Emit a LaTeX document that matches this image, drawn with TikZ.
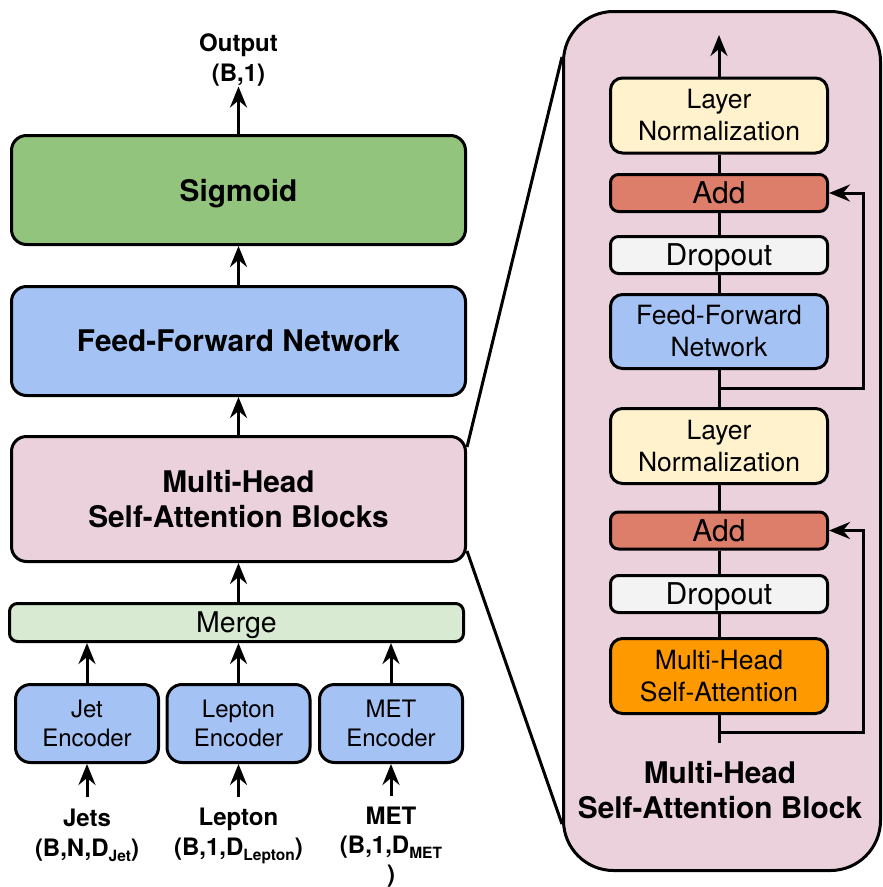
\documentclass[tikz,border=0pt]{standalone}
\usepackage{fontspec}
\setmainfont{TeX Gyre Heros}
\usetikzlibrary{arrows.meta,calc}
\definecolor{sigc}{HTML}{93C47D}
\definecolor{ffnc}{HTML}{A4C2F4}
\definecolor{mhsac}{HTML}{EAD1DC}
\definecolor{mergec}{HTML}{D9EAD3}
\definecolor{lnc}{HTML}{FFF2CC}
\definecolor{addc}{HTML}{DD7E6B}
\definecolor{dropc}{HTML}{F3F3F3}
\definecolor{mhac}{HTML}{FF9900}
\newcommand{\lowsub}[1]{\raisebox{-5pt}{\fontsize{15.5}{16}\selectfont #1}}
\begin{document}
\begin{tikzpicture}[x=1pt,y=-1pt,
  box/.style={draw=black,line width=3pt,rounded corners=15pt,inner sep=0pt,align=center,text=black},
  arr/.style={line width=3pt,-{Stealth[length=21pt,width=17pt,inset=7pt]}},
  plain/.style={line width=3pt},
  bigb/.style={font=\fontsize{29.8}{35}\selectfont\bfseries},
  lbl/.style={inner sep=0pt,align=center,font=\fontsize{24}{30}\selectfont\bfseries},
  wide/.style={minimum width=454pt},
  enc/.style={box,fill=ffnc,minimum width=143pt,minimum height=78pt,font=\fontsize{24}{28.8}\selectfont},
  inbox/.style={box,rounded corners=12pt,minimum width=217pt,minimum height=75pt,font=\fontsize{26.5}{32}\selectfont},
  thin/.style={box,rounded corners=8pt,minimum width=217pt,minimum height=37pt,font=\fontsize{30}{35}\selectfont,text depth=0pt}
]
\useasboundingbox (0,0) rectangle (883,887);

% right panel
\node[draw=black,line width=3pt,rounded corners=50pt,fill=mhsac,minimum width=317pt,minimum height=859pt,inner sep=0pt] (panel) at (722,441) {};

% left column
\node[box,wide,fill=sigc,minimum height=109pt,bigb,text depth=0pt] (sig) at (238.5,190) {Sigmoid};
\node[box,wide,fill=ffnc,minimum height=109pt,bigb] (ffn) at (238.5,341) {Feed-Forward Network};
\node[box,wide,fill=mhsac,minimum height=125pt,bigb] (mhsa) at (238.5,499) {Multi-Head\\Self-Attention Blocks};
\node[box,wide,fill=mergec,rounded corners=8pt,minimum height=38pt,font=\fontsize{28.5}{34}\selectfont,text depth=0pt] (merge) at (236.5,622.5) {Merge};
\node[enc] (jet) at (87,723.5) {Jet\\Encoder};
\node[enc] (lep) at (238.5,723.5) {Lepton\\Encoder};
\node[enc] (met) at (391,723.5) {MET\\Encoder};

\node[lbl] (out) at (238.5,60) {Output\\(B,1)};
\node[lbl] (jl) at (87,835) {Jets\\(B,N,D\lowsub{Jet})};
\node[lbl] (ll) at (238.5,836) {Lepton\\(B,1,D\lowsub{Lepton})};
\node[lbl,font=\fontsize{24}{29}\selectfont\bfseries] (ml) at (391,847) {MET\\(B,1,D\lowsub{MET}\\)};

% zoom lines
\draw[plain] ($(mhsa.north east)+(0,12)$) -- ($(panel.north west)+(0,47)$);
\draw[plain] ($(mhsa.south east)+(0,-12)$) -- ($(panel.south west)+(0,-48)$);

% left arrows
\draw[arr] (sig) -- (out);
\draw[arr] (ffn) -- (sig);
\draw[arr] (mhsa) -- (ffn);
\draw[arr] (mhsa.south |- merge.north) -- (mhsa.south);
\draw[arr] (jet.north) -- (jet.north |- merge.south);
\draw[arr] (lep.north) -- (lep.north |- merge.south);
\draw[arr] (met.north) -- (met.north |- merge.south);
\draw[arr,shorten <=11pt] (jl.north) -- (jet.south);
\draw[arr,shorten <=11pt] (ll.north) -- (lep.south);
\draw[arr,shorten <=11pt] (ml.north) -- (met.south);

% right panel blocks
\node[inbox,fill=lnc] (ln1) at (719,115.5) {Layer\\Normalization};
\node[thin,fill=addc] (add1) at (719,193) {Add};
\node[thin,fill=dropc] (drop1) at (719,255) {Dropout};
\node[inbox,fill=ffnc,minimum height=74pt] (ffn2) at (719,331.5) {Feed-Forward\\Network};
\node[inbox,fill=lnc] (ln2) at (719,446) {Layer\\Normalization};
\node[thin,fill=addc] (add2) at (719,530.5) {Add};
\node[thin,fill=dropc] (drop2) at (719,594) {Dropout};
\node[inbox,fill=mhac] (mha) at (719,676) {Multi-Head\\Self-Attention};

\node[inner sep=0pt,align=center,bigb] (ptitle) at (720,790) {Multi-Head\\Self-Attention Block};

\coordinate (top) at (719,35);
\coordinate (bot) at (719,743);
\coordinate (s1) at ($(ffn2.south)!0.5!(ln2.north)$);
\coordinate (s2) at (719,732);
\coordinate (r1) at ($(add1.east)+(34,0)$);
\coordinate (r2) at ($(add2.east)+(34,0)$);

\draw[arr] (ln1) -- (top);
\draw[plain] (add1) -- (ln1);
\draw[plain] (drop1) -- (add1);
\draw[plain] (ffn2) -- (drop1);
\draw[plain] (ln2) -- (ffn2);
\draw[plain] (add2) -- (ln2);
\draw[plain] (drop2) -- (add2);
\draw[plain] (mha) -- (drop2);
\draw[plain] (mha) -- (bot);
\draw[arr] (s1) -| (r1) -- (add1.east);
\draw[arr] (s2) -| (r2) -- (add2.east);
\end{tikzpicture}
\end{document}
